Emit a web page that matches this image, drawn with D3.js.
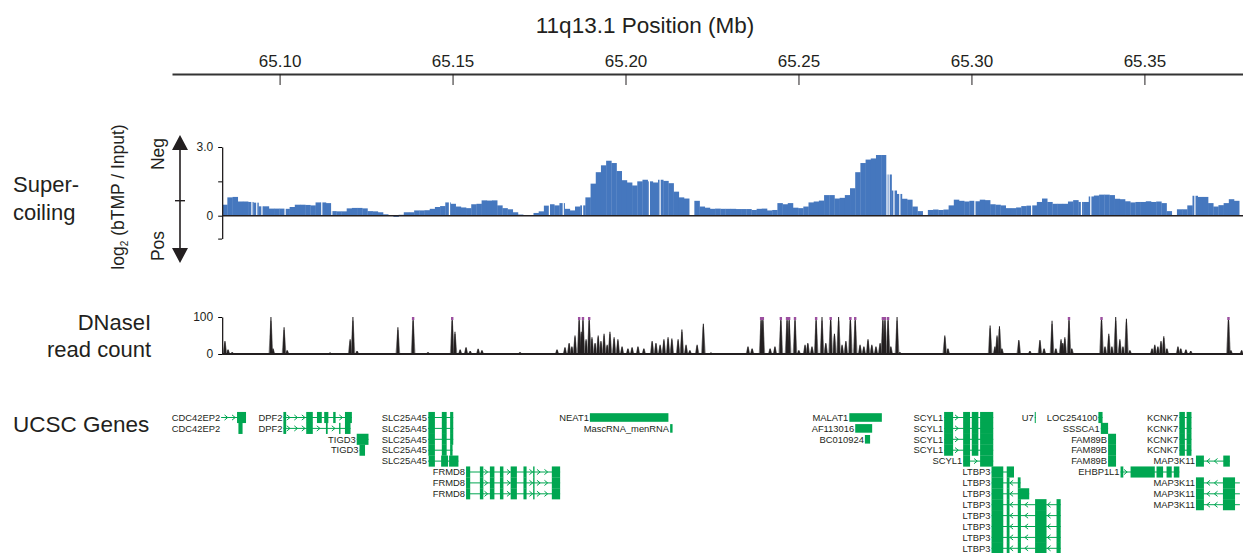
<!DOCTYPE html>
<html>
<head>
<meta charset="utf-8">
<title>11q13.1 supercoiling</title>
<script src="https://cdn.jsdelivr.net/npm/d3@7"></script>
<style>
body{margin:0;background:#fff;}
text{font-family:Arial,"Liberation Sans",Helvetica,sans-serif;fill:#231f20;}
</style>
</head>
<body>
<div id="chart"></div>
<script>
var w=1243,h=553;

// position axis (Mb)
var axisDomain=[65.0689,65.3785];
var axisTicks=[65.10,65.15,65.20,65.25,65.30,65.35];

// supercoiling, log2(bTMP/Input), bins of scStep Mb starting at scStart
var scStart=65.0834, scStep=0.0015;
var scValues=[0.48,0.8,0.82,0.62,0.62,0.6,0.57,0.41,0.41,0.31,
0.31,0.31,0.3,0.38,0.48,0.48,0.47,0.45,0.58,0.58,
0.55,0.2,0.19,0.19,0.32,0.34,0.34,0.32,0.2,0.19,
0.15,0.06,0.02,-0.05,0.04,0.15,0.15,0.23,0.23,0.24,
0.3,0.38,0.42,0.58,0.52,0.4,0.36,0.33,0.5,0.52,
0.67,0.66,0.67,0.45,0.33,0.28,0.15,0.05,0.03,0,
0.12,0.19,0.44,0.5,0.45,0.55,0.3,0.23,0.4,0.45,
0.8,1.4,1.9,2.2,2.4,2.3,1.95,1.55,1.45,1.32,
1.5,1.57,1.5,1.45,1.57,1.52,1.42,1.05,0.8,0.75,
null,0.65,0.4,0.35,0.3,0.31,0.3,0.3,0.3,0.29,
0.29,0.29,0.25,0.3,0.31,0.23,0.25,0.55,0.5,0.55,
0.35,0.33,0.4,0.58,0.62,0.66,0.9,0.9,0.75,0.78,
0.9,1.2,1.9,2.3,2.45,2.5,2.65,2.65,1.8,1.1,
0.95,0.74,0.7,0.4,0.2,0.02,0.25,0.27,0.25,0.27,
0.45,0.7,0.65,0.62,0.65,0.63,0.7,0.68,0.5,0.48,
0.45,0.33,0.33,0.36,0.42,0.44,0.45,0.6,0.75,0.6,
0.52,0.52,0.52,0.62,0.68,0.6,0.6,0.84,0.88,0.92,
0.92,0.9,0.74,0.72,0.63,0.58,0.6,0.6,0.63,0.6,
0.62,0.55,0.2,0.02,0.28,0.28,0.45,0.87,0.82,0.82,
0.55,0.4,0.46,0.55,0.72,0.65];
var scTicks=[3,1.5,0,-1];
// positions (Mb) of missing probes, shown as thin white gaps
var scGaps=[65.0920,65.0934,65.0949,65.1016,65.1122,65.1151,65.1491,65.1780,65.1820,
65.1876,65.2069,65.2100,65.2756,65.2762,65.2776,65.2793,65.3010,65.3174,65.3318,
65.3345,65.3646];

// DNaseI read count peaks (Mb, count; >100 = saturated)
var dnPos=[65.0842,65.0851,65.0863,65.0975,65.0981,65.1013,65.1022,65.1146,65.1204,65.1212,
65.1224,65.1342,65.1386,65.1429,65.1499,65.1507,65.1522,65.1539,65.1551,65.1574,
65.1585,65.1695,65.1802,65.1825,65.1837,65.1845,65.1854,65.1866,65.1872,65.1877,
65.1886,65.1895,65.1903,65.1912,65.1921,65.1929,65.1938,65.1947,65.1955,65.1967,
65.1978,65.1990,65.2007,65.2019,65.2036,65.2053,65.2077,65.2088,65.2100,65.2111,
65.2123,65.2134,65.2152,65.2163,65.2175,65.2186,65.2207,65.2225,65.2247,65.2354,
65.2366,65.2392,65.2397,65.2418,65.2432,65.2449,65.2467,65.2473,65.2490,65.2501,
65.2519,65.2527,65.2539,65.2551,65.2568,65.2579,65.2593,65.2604,65.2616,65.2626,
65.2637,65.2650,65.2664,65.2678,65.2689,65.2701,65.2712,65.2724,65.2736,65.2744,
65.2750,65.2759,65.2767,65.2785,65.2793,65.2923,65.2932,65.3054,65.3068,65.3074,
65.3081,65.3088,65.3137,65.3169,65.3198,65.3210,65.3233,65.3244,65.3259,65.3264,
65.3270,65.3282,65.3290,65.3376,65.3386,65.3397,65.3406,65.3417,65.3429,65.3438,
65.3448,65.3458,65.3522,65.3530,65.3539,65.3548,65.3556,65.3565,65.3597,65.3605,
65.3620,65.3634,65.3743,65.3750,65.3781];
var dnVal=[35,12,5,100,15,72,10,4,40,100,
8,72,110,5,110,60,12,18,8,14,
10,5,12,18,30,20,50,110,60,110,
40,110,45,30,50,35,55,25,60,45,
40,20,15,18,20,15,35,30,25,40,
45,42,40,66,25,10,25,82,4,20,
15,110,110,15,20,110,110,110,110,10,
25,30,20,110,100,30,110,55,100,25,
35,110,110,25,20,40,25,20,30,110,
110,110,20,100,5,50,15,77,20,50,
75,15,38,8,38,15,90,15,40,30,
45,110,15,110,20,55,20,100,40,20,
95,10,15,25,20,35,48,15,20,15,
12,8,110,10,10];

// UCSC genes
var geneNames=['CDC42EP2','CDC42EP2','DPF2','DPF2','TIGD3','TIGD3',
'SLC25A45','SLC25A45','SLC25A45','SLC25A45','SLC25A45','FRMD8','FRMD8','FRMD8',
'NEAT1','MascRNA_menRNA','MALAT1','AF113016','BC010924',
'SCYL1','SCYL1','SCYL1','SCYL1','SCYL1',
'LTBP3','LTBP3','LTBP3','LTBP3','LTBP3','LTBP3','LTBP3','LTBP3',
'U7','LOC254100','SSSCA1','FAM89B','FAM89B','FAM89B','EHBP1L1',
'KCNK7','KCNK7','KCNK7','KCNK7','MAP3K11','MAP3K11','MAP3K11','MAP3K11'];
var geneRows=[0,1,0,1,2,3, 0,1,2,3,4,5,6,7, 0,1,0,1,2, 0,1,2,3,4, 5,6,7,8,9,10,11,12,
0,0,1,2,3,4,5, 0,1,2,3,4,6,7,8];
var geneStart=[65.0831,65.0831,65.1011,65.1011,65.1223,65.1231,
65.1429,65.1429,65.1429,65.1429,65.1429,65.1539,65.1539,65.1539,
65.1897,65.2129,65.2647,65.2664,65.2692,
65.2921,65.2921,65.2921,65.2921,65.2976,
65.3058,65.3058,65.3058,65.3058,65.3058,65.3058,65.3058,65.3058,
65.3183,65.3367,65.3374,65.3395,65.3395,65.3395,65.3431,
65.3601,65.3601,65.3601,65.3601,65.3649,65.3649,65.3649,65.3649];
var geneEnd=[65.0903,65.0893,65.1209,65.1205,65.1257,65.1247,
65.1502,65.1502,65.1502,65.1500,65.1517,65.1811,65.1811,65.1811,
65.2124,65.2136,65.2741,65.2713,65.2707,
65.3063,65.3063,65.3063,65.3063,65.3063,
65.3123,65.3142,65.3167,65.3258,65.3258,65.3258,65.3258,65.3258,
65.3186,65.3379,65.3395,65.3418,65.3418,65.3418,65.3601,
65.3636,65.3636,65.3636,65.3636,65.3747,65.3776,65.3776,65.3776];
// '.' = non-coding transcript: no intron line, shorter block; '' = no intron line
var geneStrand=['+','','+','+','+','+', '+','+','+','+','+','+','+','+',
'.','.','.','.','.', '+','+','+','+','+', '-','-','-','-','-','-','-','-',
'+','+','+','+','+','+','+', '-','-','-','-','-','-','-','-'];
var slcEx=[[65.1430,65.1449],[65.1469,65.1483],[65.1493,65.1502]];
var frmEx=[[65.1539,65.1551],[65.1579,65.1589],[65.1608,65.1621],[65.1637,65.1647],[65.1668,65.1686],[65.1705,65.1714],[65.1733,65.1737],[65.1787,65.1811]];
var scyEx=[[65.2921,65.2947],[65.2976,65.2996],[65.3001,65.3020],[65.3025,65.3063]];
var ltbEx=[[65.3058,65.3092],[65.3102,65.3110],[65.3134,65.3143],[65.3184,65.3217],[65.3246,65.3258]];
var kcnEx=[[65.3601,65.3617],[65.3622,65.3636]];
var mapEx=[[65.3649,65.3672],[65.3727,65.3762]];
var geneExons=[
 [[65.0877,65.0903]],[[65.0881,65.0893]],
 [[65.1011,65.1019],[65.1077,65.1096],[65.1108,65.1122],[65.1129,65.1141],[65.1155,65.1162],[65.1189,65.1209]],
 [[65.1011,65.1019],[65.1077,65.1096],[65.1134,65.1139],[65.1172,65.1176],[65.1189,65.1205]],
 [[65.1223,65.1257]],[[65.1231,65.1247]],
 slcEx,slcEx,slcEx,[[65.1430,65.1449],[65.1469,65.1483],[65.1493,65.1500]],
 [[65.1431,65.1449],[65.1467,65.1487],[65.1490,65.1517]],
 frmEx,frmEx,frmEx,
 [[65.1897,65.2124]],[[65.2129,65.2136]],[[65.2647,65.2741]],[[65.2664,65.2713]],[[65.2692,65.2707]],
 scyEx,scyEx,scyEx,scyEx,[[65.2976,65.2996],[65.3025,65.3063]],
 [[65.3058,65.3092],[65.3102,65.3123]],
 [[65.3058,65.3092],[65.3102,65.3110],[65.3134,65.3142]],
 [[65.3058,65.3092],[65.3102,65.3110],[65.3134,65.3167]],
 ltbEx,ltbEx,ltbEx,ltbEx,ltbEx,
 [[65.3183,65.3186]],[[65.3367,65.3379]],[[65.3374,65.3395]],
 [[65.3395,65.3418]],[[65.3395,65.3418]],[[65.3395,65.3418]],
 [[65.3431,65.3439],[65.3460,65.3530],[65.3535,65.3554],[65.3564,65.3579],[65.3585,65.3601]],
 kcnEx,kcnEx,kcnEx,kcnEx,
 [[65.3649,65.3672],[65.3728,65.3747]],mapEx,mapEx,mapEx];

var blue='#4577be', green='#00a651';

var svg=d3.select('#chart').append('svg')
  .attr('width',w).attr('height',h);

var x=d3.scaleLinear().domain(axisDomain).range([172,1243]);

// title + top axis
svg.append('text').attr('x',645).attr('y',33)
  .attr('text-anchor','middle').style('font-size','22.5px')
  .text('11q13.1 Position (Mb)');

var gx=svg.append('g').attr('transform','translate(0,74)')
  .call(d3.axisTop(x).tickValues(axisTicks).tickSizeInner(-11).tickSizeOuter(0)
    .tickPadding(7).tickFormat(d3.format('.2f')));
gx.select('.domain').attr('stroke','#333').attr('stroke-width',2);
gx.selectAll('.tick line').attr('stroke','#231f20');
gx.selectAll('.tick text').style('font-size','17px').attr('fill','#231f20');

// left labels
function label(t,xx,yy,anchor){
  return svg.append('text').attr('x',xx).attr('y',yy).attr('text-anchor',anchor||'start')
    .style('font-size','22px').text(t);
}
label('Super-',13,192);
label('coiling',13,220);
label('DNaseI',151,330,'end');
label('read count',151,357,'end');
label('UCSC Genes',13,432).style('font-size','22.5px');

// supercoiling track
var ySc=d3.scaleLinear().domain([-1,3]).range([238.6,147]);
var bw=x(scStart+scStep)-x(scStart);
svg.append('g').selectAll('rect')
  .data(scValues.map(function(v,i){return {v:v,p:scStart+i*scStep};}).filter(function(d){return d.v!==null;}))
  .enter().append('rect')
  .attr('x',function(d){return x(d.p);})
  .attr('width',bw+0.3)
  .attr('y',function(d){return Math.min(ySc(d.v),ySc(0));})
  .attr('height',function(d){return Math.abs(ySc(d.v)-ySc(0));})
  .attr('fill',blue);
svg.append('g').selectAll('rect').data(scGaps).enter().append('rect')
  .attr('x',function(d){return x(d)-0.6;}).attr('width',1.2)
  .attr('y',ySc(3)).attr('height',ySc(0)-ySc(3)).attr('fill','#fff');

svg.append('line').attr('x1',x(scStart)).attr('x2',1243)
  .attr('y1',ySc(0)).attr('y2',ySc(0)).attr('stroke','#231f20').attr('stroke-width',1.6);

var gy=svg.append('g').attr('transform','translate('+x(scStart)+',0)')
  .call(d3.axisLeft(ySc).tickValues(scTicks).tickSizeInner(4).tickSizeOuter(0).tickPadding(5)
    .tickFormat(function(d){return d===3?'3.0':(d===0?'0':'');}));
gy.select('.domain').attr('stroke','#231f20').attr('stroke-width',1.3);
gy.selectAll('.tick text').style('font-size','12px').attr('fill','#231f20');

// arrow Neg/Pos
var ax=180;
svg.append('line').attr('x1',ax).attr('x2',ax).attr('y1',145).attr('y2',254)
  .attr('stroke','#231f20').attr('stroke-width',1.6);
svg.append('path').attr('d','M'+ax+',135L'+(ax+8)+',150L'+(ax-8)+',150Z').attr('fill','#231f20');
svg.append('path').attr('d','M'+ax+',263L'+(ax+8)+',248L'+(ax-8)+',248Z').attr('fill','#231f20');
svg.append('line').attr('x1',ax-5).attr('x2',ax+5).attr('y1',200.7).attr('y2',200.7)
  .attr('stroke','#231f20').attr('stroke-width',1.4);

function vtext(xx,yy,size){
  return svg.append('text').attr('transform','translate('+xx+','+yy+') rotate(-90)')
    .attr('text-anchor','middle').style('font-size',size);
}
vtext(164,154,'17.5px').text('Neg');
vtext(164,246,'17.5px').text('Pos');
var lt=vtext(124,197,'17.5px');
lt.append('tspan').text('log');
lt.append('tspan').attr('dy',4).style('font-size','10px').text('2');
lt.append('tspan').attr('dy',-4).text(' (bTMP / Input)');

// DNaseI track
var yDn=d3.scaleLinear().domain([0,100]).range([354,317]);
var dnData=dnPos.map(function(p,i){return {p:p,v:dnVal[i]};});
var gd=svg.append('g');
gd.selectAll('path.halo').data(dnData).enter().append('path')
  .attr('class','halo')
  .attr('d',function(d){var cx=x(d.p),t=yDn(Math.min(d.v,100)*0.9),b=yDn(0);
    return 'M'+(cx-2.4)+','+b+'L'+(cx-0.7)+','+t+'L'+(cx+0.7)+','+t+'L'+(cx+2.4)+','+b+'Z';})
  .attr('fill','#8c8c8c');
gd.selectAll('path.pk').data(dnData).enter().append('path')
  .attr('class','pk')
  .attr('d',function(d){var cx=x(d.p),t=yDn(Math.min(d.v,100)),b=yDn(0);
    return 'M'+(cx-1.4)+','+b+'L'+(cx-0.5)+','+t+'L'+(cx+0.5)+','+t+'L'+(cx+1.4)+','+b+'Z';})
  .attr('fill','#231f20');
gd.selectAll('rect.sat').data(dnData.filter(function(d){return d.v>100;})).enter().append('rect')
  .attr('class','sat')
  .attr('x',function(d){return x(d.p)-1.2;}).attr('width',2.4)
  .attr('y',yDn(100)).attr('height',3).attr('fill','#9b4f9f');

svg.append('line').attr('x1',x(scStart)).attr('x2',1243)
  .attr('y1',yDn(0)).attr('y2',yDn(0)).attr('stroke','#231f20').attr('stroke-width',2);

var gdy=svg.append('g').attr('transform','translate('+x(scStart)+',0)')
  .call(d3.axisLeft(yDn).tickValues([0,100]).tickSizeInner(4).tickSizeOuter(0).tickPadding(5));
gdy.select('.domain').attr('stroke','#231f20').attr('stroke-width',1.3);
gdy.selectAll('.tick text').style('font-size','12px').attr('fill','#231f20');

// genes
var rowH=10.9;
var rowY=function(r){return 417.5+r*rowH;};
var gg=svg.append('g');
geneNames.forEach(function(name,i){
  var yy=rowY(geneRows[i]), s=x(geneStart[i]), e=x(geneEnd[i]);
  var coding=geneStrand[i]!=='.';
  var g=gg.append('g');
  if(geneStrand[i]==='+'||geneStrand[i]==='-'){
    g.append('line').attr('x1',s).attr('x2',e).attr('y1',yy).attr('y2',yy)
      .attr('stroke',green).attr('stroke-width',1);
    var ex=geneExons[i];
    for(var cx=s+5;cx<e-3;cx+=7.5){
      var inside=ex.some(function(r){return cx>x(r[0])-2&&cx<x(r[1])+2;});
      if(inside) continue;
      var d=geneStrand[i]==='+'?1:-1;
      g.append('path').attr('d','M'+(cx-1.6*d)+','+(yy-2.6)+'L'+(cx+1.6*d)+','+yy+'L'+(cx-1.6*d)+','+(yy+2.6))
        .attr('fill','none').attr('stroke',green).attr('stroke-width',1);
    }
  }
  var eh=coding?rowH+0.2:8.6;
  g.selectAll('rect').data(geneExons[i]).enter().append('rect')
    .attr('x',function(r){return x(r[0]);})
    .attr('width',function(r){return Math.max(1,x(r[1])-x(r[0]));})
    .attr('y',yy-eh/2).attr('height',eh).attr('fill',green);
  g.append('text').attr('x',s-1).attr('y',yy).attr('dy','0.35em')
    .attr('text-anchor','end').style('font-size','9.4px').attr('fill','#333')
    .text(name);
});
</script>
</body>
</html>
